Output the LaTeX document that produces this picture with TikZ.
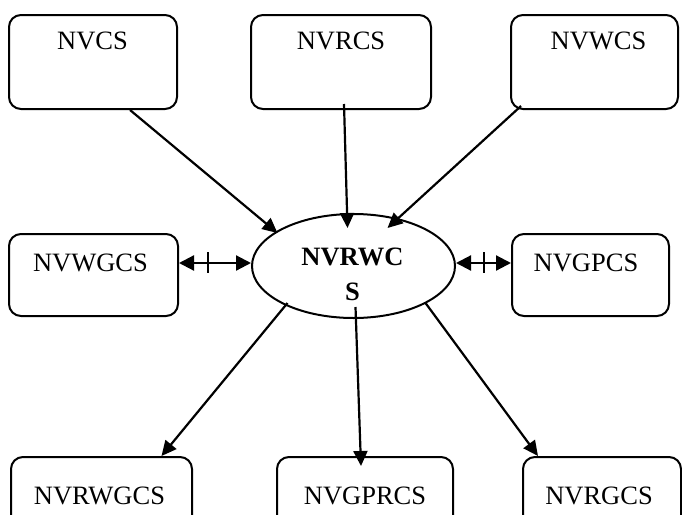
\documentclass[tikz,border=0pt]{standalone}
\usepackage{fontspec}
\setmainfont{Liberation Serif}
\usetikzlibrary{arrows.meta,calc,shapes.geometric}
\begin{document}
\begin{tikzpicture}[x=1pt,y=-1pt,
 box/.style={draw,line width=2pt,rounded corners=12pt,inner sep=0pt},
 lbl/.style={inner sep=0pt,font=\fontsize{26.5}{35}\selectfont},
 conn/.style={line width=2.2pt,-{Triangle[length=15pt,width=14pt]}},
 bidir/.style={line width=2.2pt,{Triangle[length=15pt,width=15pt]}-{Triangle[length=15pt,width=15pt]}},
 tick/.style={line width=2.2pt}]
\useasboundingbox (0,0) rectangle (682,514);
\clip (0,0) rectangle (682,514);
% boxes
\node[box,minimum width=168pt,minimum height=94pt] (b1) at (93,62) {};
\node[box,minimum width=180pt,minimum height=94pt] (b2) at (341,62) {};
\node[box,minimum width=167pt,minimum height=94pt] (b3) at (594.5,62) {};
\node[box,minimum width=169pt,minimum height=82pt] (b4) at (93.5,275) {};
\node[box,minimum width=157pt,minimum height=82pt] (b5) at (590.5,275) {};
\node[box,minimum width=181pt,minimum height=94pt] (b6) at (101.5,504) {};
\node[box,minimum width=176pt,minimum height=94pt] (b7) at (365,504) {};
\node[box,minimum width=158pt,minimum height=94pt] (b8) at (602,504) {};
% labels
\node[lbl] (t1) at (92.5,40.5) {NVCS};
\node[lbl] (t2) at (341,40.5) {NVRCS};
\node[lbl] (t3) at (598.5,40.5) {NVWCS};
\node[lbl] (t4) at (90.5,262.5) {NVWGCS};
\node[lbl] (t5) at (586,262.5) {NVGPCS};
\node[lbl] (t6) at (99.5,496) {NVRWGCS};
\node[lbl] (t7) at (365,496) {NVGPRCS};
\node[lbl] (t8) at (599,496) {NVRGCS};
% ellipse
\node[draw,ellipse,line width=2pt,minimum width=203pt,minimum height=104pt,inner sep=0pt] (e) at (353.5,266) {};
\node[lbl,font=\fontsize{26.5}{35}\selectfont\bfseries,align=center] (et) at (352.5,274.5) {NVRWC\\S};
% incoming connectors
\draw[conn] ($(b1.south)+(37,0)$) -- ($(e.center)+(-76,-33)$);
\draw[conn] ($(b2.south)+(3,-6)$) -- ($(e.center)+(-6,-38)$);
\draw[conn] ($(b3.south west)+(11,-4)$) -- ($(e.center)+(34,-38)$);
% bidirectional connectors
\coordinate (l1) at ($(b4.east)+(0,-12)$);
\coordinate (r1) at ($(b5.west)+(0,-12)$);
\draw[bidir] (l1) -- (l1 -| e.west);
\draw[bidir] (r1 -| e.east) -- (r1);
\draw[tick] ($(l1)+(29,-11)$) -- ++(0,21);
\draw[tick] ($(r1)+(-27,-11)$) -- ++(0,21);
% outgoing connectors
\draw[conn] ($(e.center)+(-66,37)$) -- ($(b6.north)+(60,0)$);
\draw[conn] ($(e.center)+(2,41)$) -- ($(b7.north)+(-4,10)$);
\draw[conn] ($(e.center)+(72,37)$) -- ($(b8.north)+(-64,0)$);
\end{tikzpicture}
\end{document}
